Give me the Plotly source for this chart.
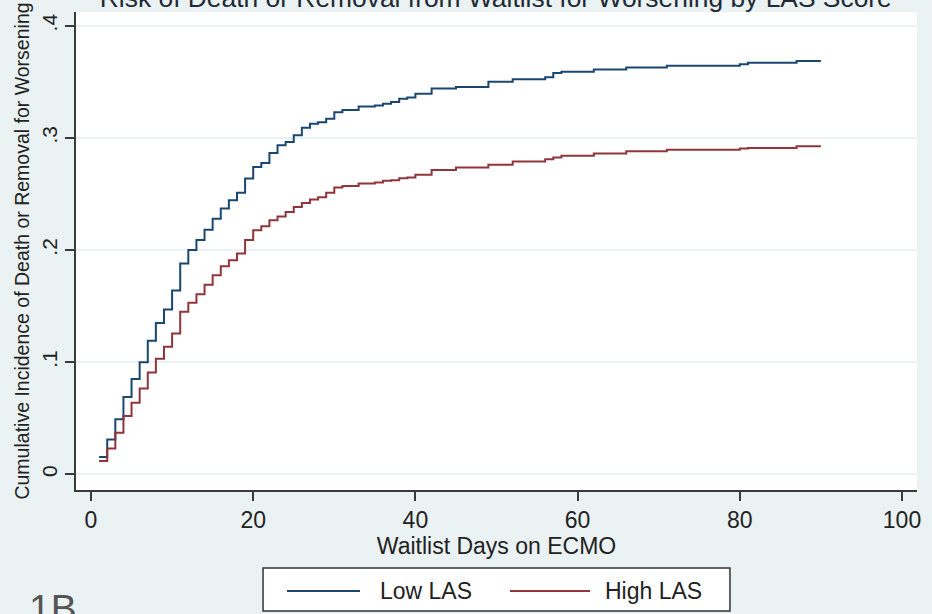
import plotly.graph_objects as go

# ---- data ----
days = [1, 2, 3, 4, 5, 6, 7, 8, 9, 10, 11, 12, 13, 14, 15, 16, 17, 18, 19, 20,
        21, 22, 23, 24, 25, 26, 27, 28, 29, 30, 31, 33, 35, 36, 37, 38, 39, 40,
        42, 45, 49, 52, 56, 57, 58, 62, 66, 71, 80, 81, 87, 90]
low_las = [0.0154, 0.031, 0.049, 0.069, 0.085, 0.100, 0.119, 0.135, 0.147, 0.164,
           0.188, 0.200, 0.209, 0.218, 0.228, 0.237, 0.2444, 0.251, 0.2637, 0.274,
           0.2776, 0.2865, 0.2934, 0.2963, 0.3023, 0.309, 0.3126, 0.314, 0.317, 0.323,
           0.325, 0.328, 0.329, 0.3305, 0.332, 0.335, 0.336, 0.3395,
           0.344, 0.3455, 0.350, 0.3524, 0.354, 0.358, 0.359, 0.361, 0.3629, 0.3644,
           0.3656, 0.367, 0.3686, 0.3686]
high_las = [0.0118, 0.023, 0.037, 0.052, 0.0638, 0.0766, 0.0909, 0.103, 0.1137, 0.1256,
            0.1449, 0.153, 0.1606, 0.169, 0.1775, 0.1856, 0.191, 0.197, 0.209, 0.2176,
            0.2212, 0.2265, 0.230, 0.234, 0.2384, 0.242, 0.245, 0.2470, 0.2512, 0.2557,
            0.2572, 0.2593, 0.2602, 0.2617, 0.2623, 0.2641, 0.2647, 0.2671,
            0.2713, 0.2737, 0.276, 0.279, 0.281, 0.2826, 0.2841, 0.2862, 0.288, 0.2895,
            0.2905, 0.291, 0.2925, 0.2925]
series_names = ["Low LAS", "High LAS"]
series_colors = ["#1A476F", "#90353B"]
x_ticks = [0, 20, 40, 60, 80, 100]
y_ticks = [0, 0.1, 0.2, 0.3, 0.4]
y_tick_labels = ["0", ".1", ".2", ".3", ".4"]
title_text = "Risk of Death or Removal from Waitlist for Worsening by LAS Score"
x_title = "Waitlist Days on ECMO"
y_title = "Cumulative Incidence of Death or Removal for Worsening"
panel_label = "1B"

BG = "#EAF2F3"
AXC = "#3a3a3a"
NARROW = "Liberation Sans Narrow, Arial Narrow, Liberation Sans, Arial, sans-serif"
REG = "Liberation Sans, Arial, sans-serif"

fig = go.Figure()
for vals, name, col in zip([low_las, high_las], series_names, series_colors):
    fig.add_trace(go.Scatter(x=days, y=vals, mode="lines", name=name,
                             line=dict(color=col, width=2, shape="hv"),
                             showlegend=False))

fig.update_layout(
    width=932, height=614, autosize=False,
    paper_bgcolor=BG, plot_bgcolor="white",
    margin=dict(l=76, r=15, t=12, b=124),
    title=dict(text=title_text, x=0.532, xanchor="center", yref="container",
               y=0.988, yanchor="bottom",
               font=dict(family=REG, size=26.4, color="#1f2a36")),
    xaxis=dict(range=[-1.85, 101.85], tickvals=x_ticks, ticks="outside", ticklen=9,
               tickcolor=AXC, tickwidth=1.5, showline=True, linecolor=AXC, linewidth=1.5,
               showgrid=False, zeroline=False,
               tickfont=dict(family=NARROW, size=23, color="#222"),
               title=dict(text=x_title, standoff=2,
                          font=dict(family=NARROW, size=23, color="#222"))),
    yaxis=dict(range=[-0.014, 0.4123], tickvals=y_ticks, ticktext=y_tick_labels,
               tickangle=-90, ticks="outside", ticklen=9, tickcolor=AXC, tickwidth=1.5,
               showline=True, linecolor=AXC, linewidth=1.5,
               showgrid=True, gridcolor=BG, gridwidth=2, zeroline=False,
               tickfont=dict(family=REG, size=21, color="#222"),
               title=dict(text=y_title, standoff=3,
                          font=dict(family=REG, size=19.5, color="#222"))),
)

# legend drawn as a framed box below the plot (Stata style)
shapes = [dict(type="rect", xref="paper", yref="paper", x0=0.2224, x1=0.7776,
               y0=-0.253, y1=-0.163, fillcolor="white", line=dict(color="#333", width=1.5))]
leg_line_x = [(0.2509, 0.3377), (0.516, 0.6112)]
leg_text_x = [0.3591, 0.6266]
for (a, b), col in zip(leg_line_x, series_colors):
    shapes.append(dict(type="line", xref="paper", yref="paper", x0=a, x1=b,
                       y0=-0.2111, y1=-0.2111, line=dict(color=col, width=2)))
fig.update_layout(shapes=shapes)
ann = []
for tx, name in zip(leg_text_x, series_names):
    ann.append(dict(text=name, xref="paper", yref="paper", x=tx, y=-0.2111,
                    xanchor="left", yanchor="middle", showarrow=False,
                    font=dict(family=NARROW, size=23, color="#222")))
ann.append(dict(text=panel_label, xref="paper", yref="paper", x=-0.0583, y=-0.199,
                xanchor="left", yanchor="top", showarrow=False,
                font=dict(family=REG, size=39, color="#555")))
fig.update_layout(annotations=ann)

fig.write_html("out.html", config={"displayModeBar": False},
               post_script="document.body.style.margin='0';document.body.style.overflow='hidden';")
